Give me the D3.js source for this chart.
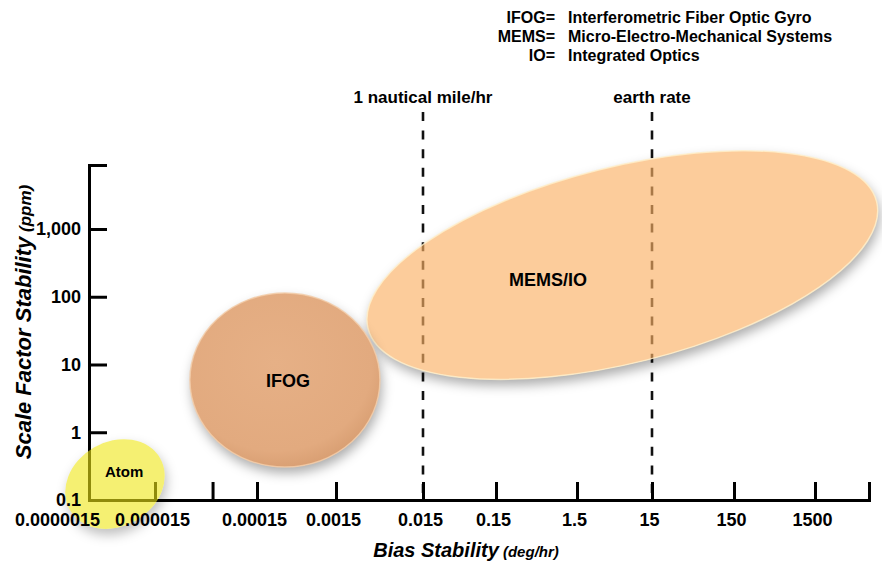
<!DOCTYPE html>
<html>
<head>
<meta charset="utf-8">
<script src="https://cdn.jsdelivr.net/npm/d3@7"></script>
<style>
  html, body { margin: 0; padding: 0; background: #ffffff; }
  svg { display: block; }
  text { font-family: "Liberation Sans", Arial, Helvetica, sans-serif; font-weight: bold; fill: #000; }
</style>
</head>
<body>
<svg id="chart" width="882" height="564"></svg>
<script>
// ---------------- data ----------------
const xTickValues = [0.0000015, 0.000015, 0.000055, 0.00015, 0.0015, 0.015, 0.15, 1.5, 15, 150, 1500];
const xTickLabels = ["0.0000015", "0.000015", "", "0.00015", "0.0015", "0.015", "0.15", "1.5", "15", "150", "1500"];
const yTickValues = [0.1, 1, 10, 100, 1000];
const yTickLabels = ["0.1", "1", "10", "100", "1,000"];

const regionNames = ["Atom", "IFOG", "MEMS/IO"];
// ends of each region's long axis (bias in deg/hr, scale factor in ppm)
const biasLow = [0.00000077, 0.000033, 0.0035];
const sfAtBiasLow = [0.071, 5.9, 34];
const biasHigh = [0.0000168, 0.0048, 8700];
const sfAtBiasHigh = [0.417, 5.9, 2540];
const widthRatio = [0.81, 0.916, 0.374];
const labelBias = [0.0000051, 0.00037, 0.66];
const labelSF = [0.26, 5.7, 177];

const refNames = ["1 nautical mile/hr", "earth rate"];
const refBias = [0.015, 15];

const abbrevs = ["IFOG=", "MEMS=", "IO="];
const definitions = ["Interferometric Fiber Optic Gyro", "Micro-Electro-Mechanical Systems", "Integrated Optics"];

// ---------------- scales ----------------
const x = d3.scaleLog()
  .domain([0.0000015, 0.000015, 0.00015, 0.0015, 0.015, 0.15, 1.5, 15, 150, 1500, 7000])
  .range([89, 155, 257, 336, 423, 496, 577, 652, 734, 815, 869]);
const y = d3.scaleLog().domain([0.1, 8800]).range([500, 165]);

const svg = d3.select("#chart");
const defs = svg.append("defs");

defs.append("filter").attr("id", "blur")
  .attr("x", "-50%").attr("y", "-50%").attr("width", "200%").attr("height", "200%")
  .append("feGaussianBlur").attr("stdDeviation", 6);

const ifogGrad = defs.append("radialGradient").attr("id", "ifogGrad")
  .attr("cx", "45%").attr("cy", "40%").attr("r", "62%");
ifogGrad.append("stop").attr("offset", "0%").attr("stop-color", "#e6b086");
ifogGrad.append("stop").attr("offset", "82%").attr("stop-color", "#e2aa7f");
ifogGrad.append("stop").attr("offset", "100%").attr("stop-color", "#d89e72");

const fills = ["rgb(238,230,20)", "url(#ifogGrad)", "#fbb165"];
const fillOpacity = [0.6, 1, 0.65];
const rims = ["none", "#f2cca8", "#fff0cc"];

// region geometry from data through scales
const regions = regionNames.map((name, i) => {
  const x1 = x(biasLow[i]), y1 = y(sfAtBiasLow[i]);
  const x2 = x(biasHigh[i]), y2 = y(sfAtBiasHigh[i]);
  const a = Math.hypot(x2 - x1, y2 - y1) / 2;
  return {
    name, i,
    cx: (x1 + x2) / 2, cy: (y1 + y2) / 2,
    rx: a, ry: a * widthRatio[i],
    angle: Math.atan2(y2 - y1, x2 - x1) * 180 / Math.PI,
    lx: x(labelBias[i]), ly: y(labelSF[i])
  };
});

function ellipse(sel, r) {
  return sel.append("ellipse")
    .attr("cx", r.cx).attr("cy", r.cy).attr("rx", r.rx).attr("ry", r.ry)
    .attr("transform", `rotate(${r.angle},${r.cx},${r.cy})`);
}

// ---------------- reference dashed lines ----------------
const refG = svg.append("g");
refNames.forEach((n, i) => {
  refG.append("line")
    .attr("x1", x(refBias[i])).attr("x2", x(refBias[i]))
    .attr("y1", 112).attr("y2", y(0.1))
    .attr("stroke", "#111").attr("stroke-width", 2.6)
    .attr("stroke-dasharray", "9,9.6");
  svg.append("text")
    .attr("x", x(refBias[i])).attr("y", 103)
    .attr("text-anchor", "middle")
    .style("font-size", "17px")
    .text(n);
});

// ---------------- axes (lines) ----------------
const xAxisLines = svg.append("g").attr("transform", `translate(0,${y(0.1)})`)
  .call(d3.axisBottom(x).tickValues(xTickValues).tickSize(-18).tickSizeOuter(-18).tickFormat(""));
const yAxisLines = svg.append("g").attr("transform", `translate(${x(0.0000015)},0)`)
  .call(d3.axisLeft(y).tickValues(yTickValues).tickSize(-18).tickSizeOuter(-18).tickFormat(""));
[xAxisLines, yAxisLines].forEach(g => {
  g.select(".domain").attr("stroke", "#000").attr("stroke-width", 3).attr("fill", "none");
  g.selectAll(".tick line").attr("stroke", "#000").attr("stroke-width", 3);
});

// ---------------- regions ----------------
regions.forEach(r => {
  const m = defs.append("mask").attr("id", "mask" + r.i)
    .attr("maskUnits", "userSpaceOnUse").attr("x", 0).attr("y", 0).attr("width", 882).attr("height", 564);
  m.append("rect").attr("width", 882).attr("height", 564).attr("fill", "#fff");
  ellipse(m, r).attr("fill", "#000");
});

const regionOrder = [2, 1, 0];
regionOrder.forEach(i => {
  const r = regions[i];
  const sg = svg.append("g").attr("mask", `url(#mask${i})`)
    .append("g").attr("transform", "translate(2,6)").attr("filter", "url(#blur)");
  ellipse(sg, r).attr("fill", "#000").attr("opacity", i === 0 ? 0.25 : 0.33);
  ellipse(svg, r)
    .attr("fill", fills[i]).attr("fill-opacity", fillOpacity[i])
    .attr("stroke", rims[i]).attr("stroke-width", 1.5).attr("stroke-opacity", 0.8);
});

// ---------------- axes (labels) ----------------
const xAxisText = svg.append("g").attr("transform", `translate(0,${y(0.1)})`)
  .call(d3.axisBottom(x).tickValues(xTickValues).tickSize(0).tickPadding(13)
    .tickFormat((d, i) => xTickLabels[i]));
xAxisText.select(".domain").remove();
xAxisText.selectAll("text").attr("fill", "#000")
  .style("font-size", "18px").style("font-weight", "bold")
  .style("font-family", "'Liberation Sans', Arial, sans-serif")
  .attr("dx", (d, i) => i === 0 ? -32 : -3);

const yAxisText = svg.append("g").attr("transform", `translate(${x(0.0000015)},0)`)
  .call(d3.axisLeft(y).tickValues(yTickValues).tickSize(0).tickPadding(8)
    .tickFormat((d, i) => yTickLabels[i]));
yAxisText.select(".domain").remove();
yAxisText.selectAll("text").attr("fill", "#000")
  .style("font-size", "18px").style("font-weight", "bold")
  .style("font-family", "'Liberation Sans', Arial, sans-serif");

// ---------------- region labels ----------------
const labelSizes = [15, 18, 18];
regions.forEach(r => {
  svg.append("text")
    .attr("x", r.lx).attr("y", r.ly)
    .attr("dy", "0.35em")
    .attr("text-anchor", "middle")
    .style("font-size", labelSizes[r.i] + "px")
    .text(r.name);
});

// ---------------- axis titles ----------------
const xt = svg.append("text")
  .attr("x", 466).attr("y", 557)
  .attr("text-anchor", "middle")
  .style("font-style", "italic");
xt.append("tspan").style("font-size", "20px").text("Bias Stability");
xt.append("tspan").style("font-size", "15px").text(" (deg/hr)");

const yt = svg.append("text")
  .attr("transform", "translate(31,322) rotate(-90)")
  .attr("text-anchor", "middle")
  .style("font-style", "italic");
yt.append("tspan").style("font-size", "22px").text("Scale Factor Stability");
yt.append("tspan").style("font-size", "17px").text(" (ppm)");

// ---------------- abbreviation key ----------------
abbrevs.forEach((a, i) => {
  svg.append("text")
    .attr("x", 555).attr("y", 23 + i * 19)
    .attr("text-anchor", "end")
    .style("font-size", "16px")
    .text(a);
  svg.append("text")
    .attr("x", 568).attr("y", 23 + i * 19)
    .style("font-size", "16px")
    .text(definitions[i]);
});
</script>
</body>
</html>
